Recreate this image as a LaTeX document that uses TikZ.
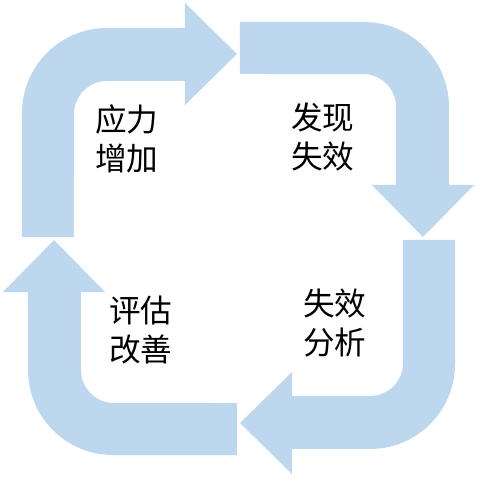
\documentclass[tikz,border=0pt]{standalone}
\usepackage{fontspec}
\newfontfamily\cjk{Noto Sans CJK SC}
\usepackage{tikz}
\definecolor{cyclefill}{RGB}{189,215,238}

\begin{document}
\begin{tikzpicture}[
  x=0.02cm, y=0.02cm,
  arrowfill/.style={fill=cyclefill, draw=none},
  steplabel/.style={align=center, font=\cjk\fontsize{18}{22}\selectfont, inner sep=0pt},
]
\useasboundingbox (-238.5,-238.5) rectangle (238.5,238.5);

% four bent arrows, one per quarter
\foreach \ang in {0,-90,-180,-270} {
  \fill[arrowfill, rotate=\ang]
    (-216.5,1.5) -- (-216.5,125.5)
    arc[start angle=180, end angle=90, radius=1.7cm]
    -- (-53.5,210.5) -- (-53.5,235.5) -- (-1.5,184.5) -- (-53.5,133.5) -- (-53.5,157.5)
    -- (-131.5,157.5)
    arc[start angle=90, end angle=180, radius=0.66cm]
    -- (-164.5,1.5) -- cycle;
}

\node[steplabel] (stress)   at (-111.5,99.5) {应力\\增加};
\node[steplabel] (detect)   at (84.5,101.5)  {发现\\失效};
\node[steplabel] (analyse)  at (96.5,-84.5)  {失效\\分析};
\node[steplabel] (improve)  at (-97.5,-91.5) {评估\\改善};
\end{tikzpicture}
\end{document}
